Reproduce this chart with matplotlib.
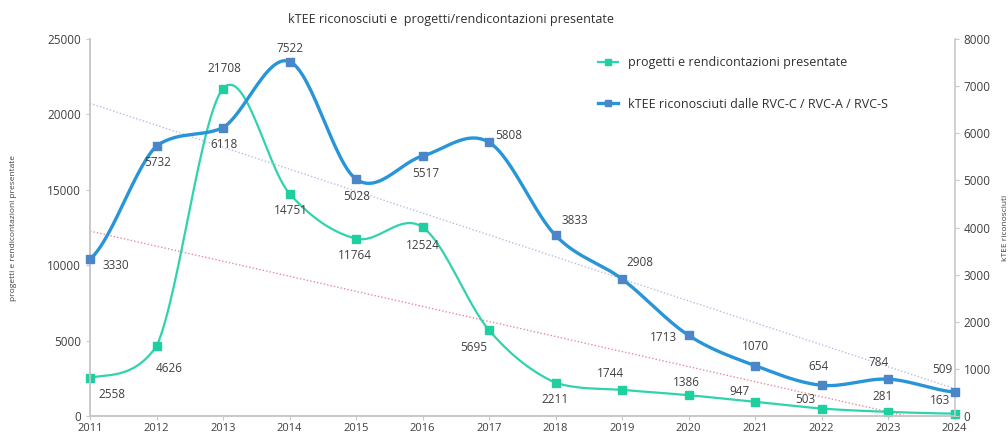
import numpy as np
import matplotlib
matplotlib.use("Agg")
import matplotlib.pyplot as plt
from matplotlib.lines import Line2D

years = np.arange(2011, 2025)
progetti = [2558, 4626, 21708, 14751, 11764, 12524, 5695, 2211, 1744, 1386, 947, 503, 281, 163]
ktee = [3330, 5732, 6118, 7522, 5028, 5517, 5808, 3833, 2908, 1713, 1070, 654, 784, 509]

# label offsets in pixels (dx, dy up)
off_prog = [(22, -17), (13, -22), (1, 20), (1, -17), (-1, -17), (0, -18), (-15, -17),
            (0, -17), (-12, 16), (-2, 13), (-16, 10), (-16, 9), (-5, 15), (-15, 13)]
off_ktee = [(26, -6), (1, -17), (1, -17), (0, 13), (1, -17), (3, -17), (20, 7),
            (19, 15), (18, 17), (-25, -2), (0, 19), (-3, 19), (-9, 17), (-12, 23)]

C_TEAL = "#2fd3ad"
C_TEAL_M = "#1fcf9f"
C_BLUE = "#2795d8"
C_BLUE_M = "#4a86c8"
C_GRAY = "#c8c8c8"
C_TXT = "#404040"
PX = 0.72  # pixels -> points at 100 dpi


def smooth(x, y, n=30):
    # cubic Hermite with Catmull-Rom tangents, limited per segment
    x = np.asarray(x, float)
    y = np.asarray(y, float)
    m = np.empty_like(y)
    m[1:-1] = (y[2:] - y[:-2]) / 2
    m[0] = (y[1] - y[0]) * 0.5
    m[-1] = (y[-1] - y[-2]) * 0.5
    t = np.linspace(0, 1, n, endpoint=False)
    xs, ys = [], []
    for i in range(len(y) - 1):
        d = y[i + 1] - y[i]
        m0, m1 = m[i], m[i + 1]
        if d != 0:
            a, b = m0 / d, m1 / d
            if a > 0 and b > 0 and a * a + b * b > 9:
                tau = 3 / np.hypot(a, b)
                m0, m1 = tau * a * d, tau * b * d
        h00 = 2 * t ** 3 - 3 * t ** 2 + 1
        h10 = t ** 3 - 2 * t ** 2 + t
        h01 = -2 * t ** 3 + 3 * t ** 2
        h11 = t ** 3 - t ** 2
        xs.append(x[i] + t * (x[i + 1] - x[i]))
        ys.append(h00 * y[i] + h10 * m0 + h01 * y[i + 1] + h11 * m1)
    xs.append([x[-1]])
    ys.append([y[-1]])
    return np.concatenate(xs), np.concatenate(ys)


plt.rcParams['font.family'] = ['Open Sans', 'DejaVu Sans']

fig = plt.figure(figsize=(10.08, 4.38), dpi=100)
ax = fig.add_axes([0.0893, 0.050, 0.8577, 0.861])
ax2 = ax.twinx()

# trend lines
xi = years - years[0]
p1 = np.polyfit(xi, progetti, 1)
ax.plot(years, np.polyval(p1, xi), ls=(0, (1, 1.5)), color="#e88a9a", lw=1.0, zorder=1)
p2 = np.polyfit(xi, ktee, 1)
ax2.plot(years, np.polyval(p2, xi), ls=(0, (1, 1.5)), color="#b7bde8", lw=1.0, zorder=1)

sx, sy = smooth(years, progetti)
ax.plot(sx, sy, color=C_TEAL, lw=1.6, zorder=3)
ax.plot(years, progetti, ls="none", marker="s", ms=5.5, color=C_TEAL_M, zorder=4, clip_on=False)
for x, v, (dx, dy) in zip(years, progetti, off_prog):
    ax.annotate(str(v), (x, v), xytext=(dx * PX, dy * PX), textcoords="offset points",
                ha="center", va="center", fontsize=8.5, color=C_TXT)

sx, sy = smooth(years, ktee)
ax2.plot(sx, sy, color=C_BLUE, lw=2.4, zorder=3)
ax2.plot(years, ktee, ls="none", marker="s", ms=5.5, color=C_BLUE_M, zorder=4, clip_on=False)
for x, v, (dx, dy) in zip(years, ktee, off_ktee):
    ax2.annotate(str(v), (x, v), xytext=(dx * PX, dy * PX), textcoords="offset points",
                 ha="center", va="center", fontsize=8.5, color=C_TXT)

ax.set_xlim(2011, 2024)
ax.set_ylim(0, 25000)
ax2.set_ylim(0, 8000)
ax.set_xticks(years)
ax.set_yticks(np.arange(0, 25001, 5000))
ax2.set_yticks(np.arange(0, 8001, 1000))

for a in (ax, ax2):
    for s in a.spines.values():
        s.set_color(C_GRAY)
        s.set_linewidth(1.2)
    a.spines['top'].set_visible(False)
    a.tick_params(colors=C_GRAY, labelcolor=C_TXT, labelsize=8.5, length=3)
ax.spines['right'].set_visible(False)
ax.tick_params(axis='x', pad=2, labelsize=8)

ax.set_ylabel("progetti e rendicontazioni presentate", fontsize=6, color=C_TXT, labelpad=22)
ax2.set_ylabel("kTEE riconosciuti", fontsize=6, color=C_TXT, rotation=90, labelpad=8)

fig.text(0.447, 0.955, "kTEE riconosciuti e  progetti/rendicontazioni presentate",
         ha="center", va="center", fontsize=9, color="#303030")

handles = [
    Line2D([], [], color=C_TEAL, lw=1.6, marker="s", ms=5, markerfacecolor=C_TEAL_M, markeredgecolor=C_TEAL_M),
    Line2D([], [], color=C_BLUE, lw=2.4, marker="s", ms=5, markerfacecolor=C_BLUE_M, markeredgecolor=C_BLUE_M),
]
ax2.legend(handles, ["progetti e rendicontazioni presentate",
                     "kTEE riconosciuti dalle RVC-C / RVC-A / RVC-S"],
           loc="upper left", bbox_to_anchor=(0.575, 0.985), frameon=False,
           fontsize=9, labelspacing=2.3, handlelength=1.6, handletextpad=0.8,
           labelcolor="#303030")

fig.savefig("out.png", dpi=100)
